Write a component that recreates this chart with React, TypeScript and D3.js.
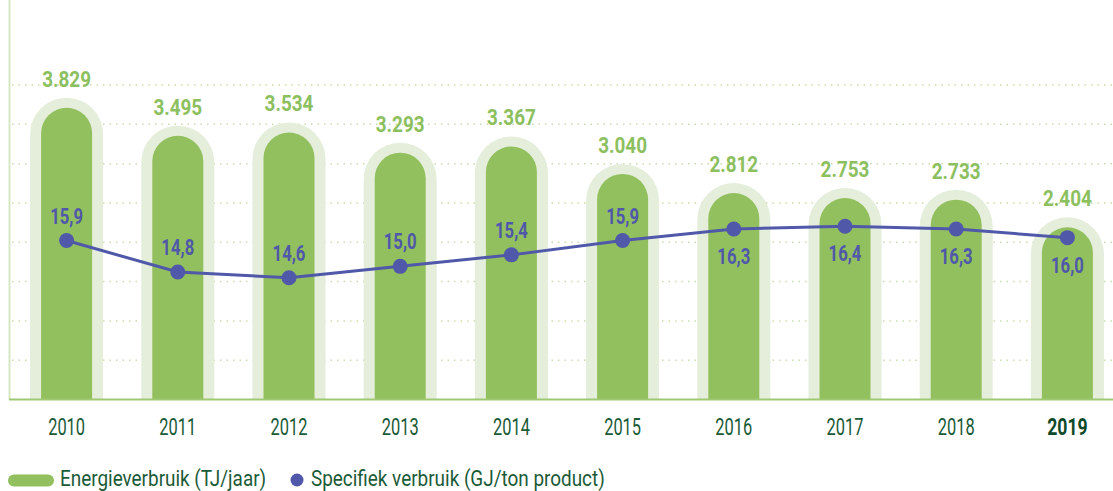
import React from 'react';
import * as d3 from 'd3';

const years = ['2010', '2011', '2012', '2013', '2014', '2015', '2016', '2017', '2018', '2019'];
const energy = [3829, 3495, 3534, 3293, 3367, 3040, 2812, 2753, 2733, 2404];
const specific = [15.9, 14.8, 14.6, 15.0, 15.4, 15.9, 16.3, 16.4, 16.3, 16.0];
const specificLabelSide = ['above', 'above', 'above', 'above', 'above', 'above', 'below', 'below', 'below', 'below'];
const gridSteps = [1, 2, 3, 4, 5, 6, 7, 8];
const legendLabels = ['Energieverbruik (TJ/jaar)', 'Specifiek verbruik (GJ/ton product)'];

const W = 1113;
const H = 491;
const FONT = "Roboto, 'Liberation Sans', sans-serif";
const GREEN = '#92c05e';
const PALE = '#e4eedb';
const VALUE_GREEN = '#8cc05f';
const BLUE = '#4f58a9';
const DARK = '#1b5a37';
const GRID = '#c9dcac';

const nl = d3.formatLocale({ decimal: ',', thousands: '.', grouping: [3], currency: ['', ''] });
const fmtInt = nl.format(',d');
const fmtDec = nl.format('.1f');

const baseY = 399.5;
const x = d3.scalePoint<string>().domain(years).range([66.6, 1067.4]);
const yE = d3.scaleLinear().domain([350, 4100]).range([baseY, 85]);
const yS = d3.scaleLinear().domain([14, 17]).range([295, 209]);
const yGrid = d3.scaleLinear().domain([0, 8]).range([399.5, 85]);

function pill(cx: number, top: number, bottom: number, r: number) {
  const p = d3.path();
  p.moveTo(cx - r, bottom);
  p.lineTo(cx - r, top + r);
  p.arc(cx, top + r, r, Math.PI, 0);
  p.lineTo(cx + r, bottom);
  p.closePath();
  return p.toString();
}

type CTProps = {
  x: number;
  y: number;
  sx: number;
  size: number;
  weight?: number;
  fill: string;
  anchor?: 'start' | 'middle' | 'end';
  children: React.ReactNode;
};

function CText({ x, y, sx, size, weight = 400, fill, anchor = 'middle', children }: CTProps) {
  return (
    <text
      transform={`translate(${x},${y}) scale(${sx},1)`}
      textAnchor={anchor}
      fontFamily={FONT}
      fontWeight={weight}
      fontSize={size}
      fill={fill}
    >
      {children}
    </text>
  );
}

export default function App() {
  const innerR = 25.5;
  const outerR = 36.5;
  const line = d3
    .line<number>()
    .x((_, i) => x(years[i]) as number)
    .y((d) => yS(d));

  return (
    <svg width={W} height={H} style={{ position: 'absolute', left: 0, top: 0, background: '#fff' }}>
      {gridSteps.map((g) => (
        <line
          key={g}
          x1={12}
          x2={W}
          y1={yGrid(g)}
          y2={yGrid(g)}
          stroke={GRID}
          strokeWidth={1.5}
          strokeDasharray="1.5 5"
        />
      ))}
      <line x1={9.5} x2={9.5} y1={0} y2={baseY} stroke="#d6e7c6" strokeWidth={2} />
      {energy.map((v, i) => {
        const cx = x(years[i]) as number;
        const top = yE(v);
        return (
          <g key={years[i]}>
            <path d={pill(cx, top - 10, baseY, outerR)} fill={PALE} />
            <path d={pill(cx, top, baseY, innerR)} fill={GREEN} />
            <CText x={cx} y={top - 21} sx={0.84} size={22.5} weight={700} fill={VALUE_GREEN}>
              {fmtInt(v)}
            </CText>
          </g>
        );
      })}
      <line x1={9} x2={W} y1={baseY} y2={baseY} stroke="#9fc873" strokeWidth={2} />
      <path d={line(specific) as string} fill="none" stroke={BLUE} strokeWidth={3} />
      {specific.map((v, i) => {
        const cx = x(years[i]) as number;
        const cy = yS(v);
        return (
          <g key={'s' + years[i]}>
            <circle cx={cx} cy={cy} r={7.5} fill={BLUE} />
            <CText
              x={cx}
              y={specificLabelSide[i] === 'above' ? cy - 17 : cy + 35}
              sx={0.76}
              size={22}
              weight={700}
              fill={BLUE}
            >
              {fmtDec(v)}
            </CText>
          </g>
        );
      })}
      {years.map((yr, i) => {
        const last = i === years.length - 1;
        return (
          <CText
            key={'y' + yr}
            x={x(yr) as number}
            y={435}
            sx={last ? 0.72 : 0.67}
            size={24.5}
            weight={last ? 700 : 400}
            fill={last ? '#0f4a2a' : DARK}
          >
            {yr}
          </CText>
        );
      })}
      <rect x={8} y={474.5} width={46} height={12} rx={6} fill={GREEN} />
      <CText x={60} y={486} sx={0.86} size={22} fill={DARK} anchor="start">
        {legendLabels[0]}
      </CText>
      <circle cx={297} cy={480} r={6.5} fill={BLUE} />
      <CText x={311} y={486} sx={0.86} size={22} fill={DARK} anchor="start">
        {legendLabels[1]}
      </CText>
    </svg>
  );
}
